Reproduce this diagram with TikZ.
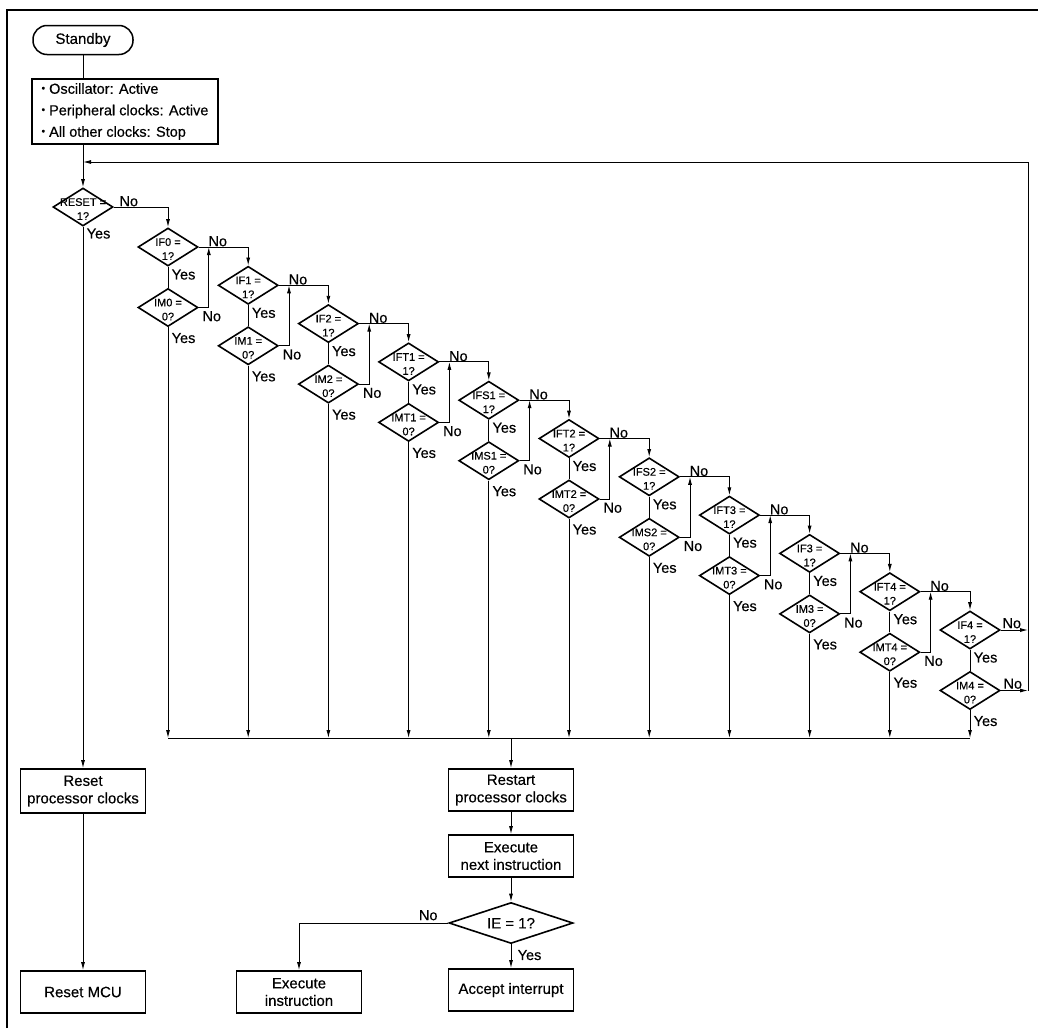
\documentclass[tikz,border=0pt]{standalone}
\usepackage{fontspec}
\setmainfont{Liberation Sans}[FakeBold=0.4]
\usetikzlibrary{shapes.geometric,arrows.meta,calc}
\newcommand{\dtxt}[2]{\makebox[0pt]{\smash{\raisebox{-5.8pt}{\begin{tabular}[c]{@{}c@{}}#1\\#2\end{tabular}}}}}
\newcommand{\bul}{\raisebox{0.15em}{\scalebox{0.7}{•}}}
\begin{document}
\begin{tikzpicture}[x=1pt,y=-1pt,
  conn/.style={line width=0.9pt},
  arr/.style={conn,-{Latex[length=8pt,width=4pt]}},
  boxnode/.style={draw,line width=1.8pt,minimum width=125pt,minimum height=42pt,inner sep=2pt,align=center,font=\fontsize{15}{17.5}\selectfont},
  dia/.style={draw,shape=diamond,line width=1.6pt,minimum width=60pt,minimum height=38pt,inner sep=0pt,font=\fontsize{11}{14}\selectfont},
  lbl/.style={inner sep=0.5pt,font=\fontsize{14.5}{16}\selectfont}]
\useasboundingbox (0,0) rectangle (1038,1028);
\draw[line width=1.5pt] (7,1028) -- (7,10) -- (1038,10);
\node[draw,line width=1.5pt,rounded corners=14pt,minimum width=100pt,minimum height=29pt,font=\fontsize{15}{17}\selectfont] (standby) at (83,40) {Standby};
\node[draw,line width=1.8pt,minimum width=186pt,inner xsep=5pt,inner ysep=0pt,minimum height=65pt,align=left,font=\fontsize{14.5}{21.5}\selectfont] (info) at (125,111.5) {\bul\ Oscillator: Active\\\bul\ Peripheral clocks: Active\\\bul\ All other clocks: Stop};
\node[dia] (reset) at (83,207) {\dtxt{RESET =}{1?}};
\coordinate (jn) at (83,162);
\coordinate (rt) at (1028,162);
\draw[conn] (standby.south) -- (standby.south |- info.north);
\draw[arr] (info.south -| reset.north) -- (reset.north);
\node[lbl,anchor=north west] (yr) at ([xshift=3pt,yshift=-1pt]reset.south) {Yes};

\foreach \a/\b [count=\k from 0] in {IF0/IM0,IF1/IM1,IF2/IM2,IFT1/IMT1,IFS1/IMS1,IFT2/IMT2,IFS2/IMS2,IFT3/IMT3,IF3/IM3,IFT4/IMT4,IF4/IM4}{
  \node[dia] (if\k) at ({168+80.2*\k},{247+38.3*\k}) {\dtxt{\a{} =}{1?}};
  \node[dia] (im\k) at ({168+80.2*\k},{307.5+38.3*\k}) {\dtxt{\b{} =}{0?}};
  \draw[conn] (if\k.south) -- (im\k.north);
  \node[lbl,anchor=north west] (yf\k) at ([xshift=3pt,yshift=-2pt]if\k.south) {Yes};
  \node[lbl,anchor=north west] (ym\k) at ([xshift=3pt,yshift=-5pt]im\k.south) {Yes};
}

\draw[arr] (reset.east) -| (if0.north);
\node[lbl,anchor=south west] (nr) at ([xshift=5pt]reset.east) {No};
\foreach \k in {0,...,9}{
  \pgfmathtruncatemacro\kn{\k+1}
  \draw[arr] (if\k.east) -| (if\kn.north);
  \draw[arr] (im\k.east) -| ([xshift=10pt]if\k.east);
  \node[lbl,anchor=south west] (nf\k) at ([xshift=9pt]if\k.east) {No};
  \node[lbl,anchor=north west] (nm\k) at ([xshift=3pt,yshift=-3pt]im\k.east) {No};
}
\coordinate (rb) at (rt |- im10.east);
\draw[arr] (if10.east) -- (if10.east -| rt);
\draw[arr] (im10.east) -- (rb);
\draw[arr] (rb) -- (rt) -- (jn);
\node[lbl,anchor=south west] (nf10) at ([xshift=1pt,yshift=1pt]if10.east) {No};
\node[lbl,anchor=south west] (nm10) at ([xshift=2pt,yshift=1pt]im10.east) {No};

\coordinate (col) at (511,738);
\foreach \k in {0,...,10} \draw[arr] (im\k.south) -- (im\k.south |- col);
\draw[conn] (im0.south |- col) -- (im10.south |- col);

\node[boxnode,minimum height=44pt] (rpc) at (83,791) {Reset\\processor clocks};
\node[boxnode] (rmcu) at (83,992) {Reset MCU};
\draw[arr] (reset.south) -- (rpc.north);
\draw[arr] (rpc) -- (rmcu);

\node[boxnode] (restart) at (511,790) {Restart\\processor clocks};
\node[boxnode] (exnext) at (511,856) {Execute\\next instruction};
\node[draw,shape=diamond,line width=1.6pt,minimum width=124pt,minimum height=41pt,inner sep=0pt,font=\fontsize{15}{17}\selectfont] (ie) at (511,923) {\makebox[0pt]{\smash{\raisebox{-0.36em}{IE = 1?}}}};
\node[boxnode] (accept) at (511,990) {Accept interrupt};
\node[boxnode] (exinst) at (299,992) {Execute\\instruction};
\draw[arr] (col) -- (restart.north);
\draw[arr] (restart) -- (exnext);
\draw[arr] (exnext) -- (ie);
\draw[arr] (ie) -- (accept);
\draw[arr] (ie.west) -| (exinst.north);
\node[lbl,anchor=north west] (yie) at ([xshift=6pt,yshift=-5pt]ie.south) {Yes};
\node[lbl,anchor=south east] (nie) at ([xshift=-10pt,yshift=2pt]ie.west) {No};
\end{tikzpicture}
\end{document}
